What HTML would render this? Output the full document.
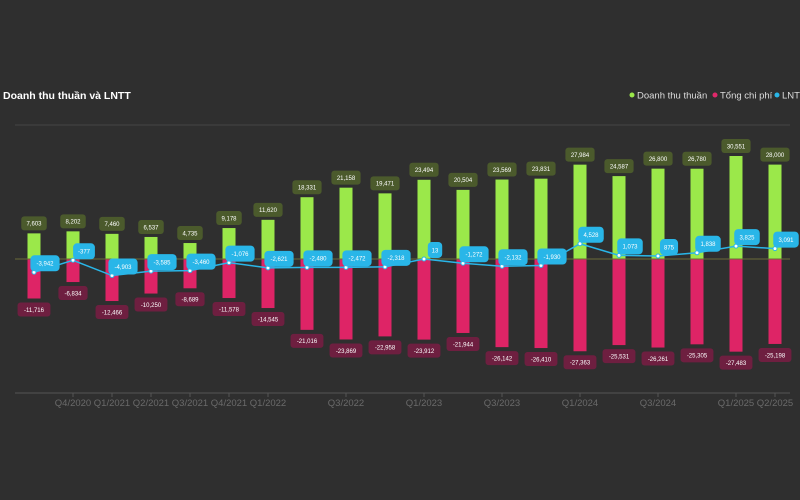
<!DOCTYPE html><html><head><meta charset="utf-8"><style>
html,body{margin:0;padding:0;background:#2f2f2f;width:800px;height:500px;overflow:hidden}
svg{display:block;font-family:"Liberation Sans",sans-serif}
</style></head><body>
<svg id="s" width="800" height="500" xmlns="http://www.w3.org/2000/svg">
<rect width="800" height="500" fill="#2f2f2f"/>
<text x="3" y="99" fill="#fff" font-size="10.5" font-weight="bold">Doanh thu thuần và LNTT</text>
<circle cx="632" cy="95" r="2.5" fill="#9be84a"/><text x="637" y="98.5" fill="#ddd" font-size="9.5">Doanh thu thuần</text>
<circle cx="715" cy="95" r="2.5" fill="#e0286a"/><text x="720" y="98.5" fill="#ddd" font-size="9.5">Tổng chi phí</text>
<circle cx="777" cy="95" r="2.5" fill="#29b6e8"/><text x="782" y="98.5" fill="#ddd" font-size="9.5">LNTT</text>
<line x1="15" y1="125" x2="790" y2="125" stroke="#444" stroke-width="1"/>
<line x1="15" y1="393" x2="790" y2="393" stroke="#555" stroke-width="1"/>
<g id="g"></g>
</svg>
<script>
var rev=[7603,8202,7460,6537,4735,9178,11620,18331,21158,19471,23494,20504,23569,23831,27984,24587,26800,26780,30551,28000];
var cost=[-11716,-6834,-12466,-10250,-8689,-11578,-14545,-21016,-23869,-22958,-23912,-21944,-26142,-26410,-27363,-25531,-26261,-25305,-27483,-25198];
var ln=[-3942,-377,-4903,-3585,-3460,-1076,-2621,-2480,-2472,-2318,13,-1272,-2132,-1930,4528,1073,875,1838,3825,3091];
var lab={1:"Q4/2020",2:"Q1/2021",3:"Q2/2021",4:"Q3/2021",5:"Q4/2021",6:"Q1/2022",8:"Q3/2022",10:"Q1/2023",12:"Q3/2023",14:"Q1/2024",16:"Q3/2024",18:"Q1/2025",19:"Q2/2025"};
var Z=259,k=103/30551,h='';
function f(v){return v.toLocaleString('en-US');}
function box(cx,cy,t,fill,fs,hh,rx){var w=t.length*3.7+7;return '<rect x="'+(cx-w/2)+'" y="'+(cy-hh/2)+'" width="'+w+'" height="'+hh+'" rx="'+rx+'" fill="'+fill+'"/><text x="'+cx+'" y="'+(cy+2.3)+'" fill="#fff" font-size="'+fs+'" text-anchor="middle">'+t+'</text>';}
var pts=[];
for(var i=0;i<20;i++){var x=34+i*39;
 var yt=Z-rev[i]*k, yb=Z-cost[i]*k;
 h+='<rect x="'+(x-6.5)+'" y="'+yt+'" width="13" height="'+(Z-yt)+'" fill="#9be84a"/>';
 h+='<rect x="'+(x-6.5)+'" y="'+Z+'" width="13" height="'+(yb-Z)+'" fill="#de2466"/>';
 pts.push([x,Z-ln[i]*k]);
 if(lab[i]){h+='<line x1="'+x+'" y1="393" x2="'+x+'" y2="397" stroke="#555"/><text x="'+x+'" y="406" fill="#6a6a6a" font-size="9.5" text-anchor="middle">'+lab[i]+'</text>';}
}
h+='<line x1="15" y1="'+Z+'" x2="790" y2="'+Z+'" stroke="#6b6b3a" stroke-width="1"/>';
for(var i=0;i<20;i++){var x=34+i*39;
 h+=box(x,Z-rev[i]*k-10,f(rev[i]),'#4b5a2c',6,14,3);
 h+=box(x,Z-cost[i]*k+11,f(cost[i]),'#6e1f40',6,14,3);
}
h+='<polyline points="'+pts.map(function(p){return p.join(',')}).join(' ')+'" fill="none" stroke="#29b6e8" stroke-width="1.5"/>';
for(var i=0;i<20;i++){var p=pts[i];
 h+='<circle cx="'+p[0]+'" cy="'+p[1]+'" r="2" fill="#fff" stroke="#29b6e8" stroke-width="1"/>';
 h+=box(p[0]+11,p[1]-9,f(ln[i]),'#29b6e8',6,16,4);
}
document.getElementById('g').innerHTML=h;
</script>
</body></html>
